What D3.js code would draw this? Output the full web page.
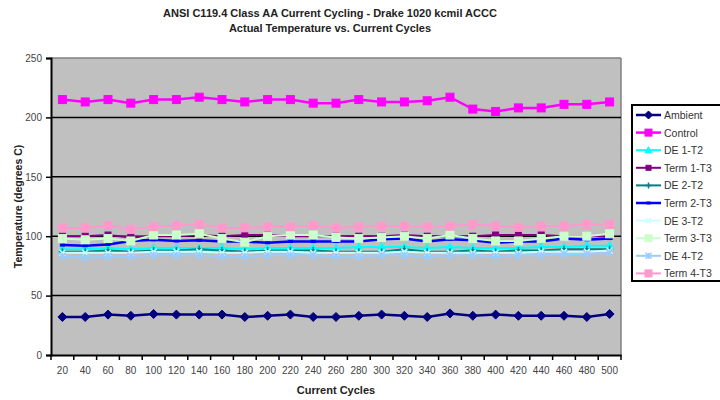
<!DOCTYPE html>
<html><head><meta charset="utf-8">
<script src="https://cdn.jsdelivr.net/npm/d3@7/dist/d3.min.js"></script>
<style>body{margin:0;background:#fff;} svg{display:block;font-family:"Liberation Sans",Arial,sans-serif;}</style>
</head><body>
<svg id="c" width="720" height="400"></svg>
<script>
const cycles = [20,40,60,80,100,120,140,160,180,200,220,240,260,280,300,320,340,360,380,400,420,440,460,480,500];
const yTicks = [0,50,100,150,200,250];
const seriesNames = ["Ambient","Control","DE 1-T2","Term 1-T3","DE 2-T2","Term 2-T3","DE 3-T2","Term 3-T3","DE 4-T2","Term 4-T3"];
const ambient = [32,32,34,33,34.5,34,34,34,32,33,34,32,32,33,34,33,32,35,33,34,33,33,33,32,34.5];
const control = [215,213,215,212,215,215,217,215,213,215,215,212,212,215,213,213,214,217,207,205,208,208,211,211,213];
const de1t2 = [89,89,90,89,90,90,90,90,89,90,90,90,90,91,91,91,90,91,90,90,90,91,91,92,92];
const term1t3 = [100,100,101,99,100,100,101,100,101,101,100,100,100,100,100,101,100,100,100,101,101,101,100,100,100];
const de2t2 = [87,87,88,87,88,88,89,88,87,88,88,88,87,87,87,89,87,87,88,87,88,88,89,89,89];
const term2t3 = [92.5,92,93,96,97,96,96.5,95.5,95.5,94.5,95.5,95.5,95.5,95.5,97.5,98,95.5,97.5,96.5,94.5,95.5,95.5,98,97,98];
const de3t2 = [86,86,86,86,87,87,87,86,86,87,87,86,86,86,86,87,86,86,86,86,86,87,87,87,88];
const term3t3 = [98,97,98,96,101,101,102,98,95,100,101,101,99,98,99,100,98,101,98,96,96,98,100,100,102];
const de4t2 = [83,82,83,83,84,84,84,83,83,84,84,84,83,83,84,84,83,84,84,83,84,84,85,85,86];
const term4t3 = [107,107,109,106,108,109,110,107,107,108,108,109,107,108,108.5,108.5,108,108.5,110,108.5,107.5,108.5,108.5,110,110];

const seriesValues = [ambient,control,de1t2,term1t3,de2t2,term2t3,de3t2,term3t3,de4t2,term4t3];
const colors = ["#000080","#ff00ff","#00ffff","#800080","#008080","#0000ff","#ccffff","#ccffcc","#99ccff","#ff99cc"];
const markers = ["diamond","square","triangle","square","plus","dash","x","square","star","square"];
const widths = [2.5,2.5,2,2,2,2.5,2,2,2,2];
const msizes = [7,8,6,6,7,5,6,8,7,8];

const svg = d3.select("#c");
const L=51,R=621,T=58,B=355;
const x = d3.scaleBand().domain(cycles).range([L,R]);
const y = d3.scaleLinear().domain([0,250]).range([B,T]);

// plot area
svg.append("rect").attr("x",L).attr("y",T).attr("width",R-L).attr("height",B-T).attr("fill","#c0c0c0");
svg.append("line").attr("x1",L).attr("x2",R).attr("y1",T).attr("y2",T).attr("stroke","#808080").attr("stroke-width",1.5);
svg.append("line").attr("x1",R).attr("x2",R).attr("y1",T).attr("y2",B).attr("stroke","#808080").attr("stroke-width",1.5);

// gridlines
svg.append("g").selectAll("line").data(yTicks.filter(d=>d>0 && d<250)).join("line")
  .attr("x1",L).attr("x2",R).attr("y1",d=>y(d)).attr("y2",d=>y(d))
  .attr("stroke","#000").attr("stroke-width",1.5);

// y axis
const yAxis = d3.axisLeft(y).tickValues(yTicks).tickSize(5).tickPadding(4);
const gy = svg.append("g").attr("transform",`translate(${L},0)`).call(yAxis);
gy.select(".domain").attr("stroke","#000").attr("stroke-width",2);
gy.selectAll(".tick line").attr("stroke","#000").attr("stroke-width",1.5);
gy.selectAll("text").attr("font-size",10).attr("fill","#444").attr("font-family","Liberation Sans, Arial, sans-serif");

// x axis
const xAxis = d3.axisBottom(x).tickSize(0).tickPadding(12);
const gx = svg.append("g").attr("transform",`translate(0,${B})`).call(xAxis);
gx.select(".domain").attr("stroke","#000").attr("stroke-width",2);
gx.selectAll("text").attr("font-size",10).attr("fill","#444").attr("font-family","Liberation Sans, Arial, sans-serif");
const bounds = d3.range(cycles.length+1).map(i=>L+i*x.step());
svg.append("g").selectAll("line").data(bounds).join("line")
  .attr("x1",d=>d).attr("x2",d=>d).attr("y1",B).attr("y2",B+5)
  .attr("stroke","#000").attr("stroke-width",1.5);

// marker generator
function drawMarker(g, type, cx, cy, s, color){
  const h=s/2;
  if(type==="diamond"){
    g.append("path").attr("d",`M${cx},${cy-h-1}L${cx+h+1},${cy}L${cx},${cy+h+1}L${cx-h-1},${cy}Z`).attr("fill",color).attr("stroke",color);
  } else if(type==="square"){
    g.append("rect").attr("x",cx-h).attr("y",cy-h).attr("width",s).attr("height",s).attr("fill",color).attr("stroke",color);
  } else if(type==="triangle"){
    g.append("path").attr("d",`M${cx},${cy-h-1}L${cx+h+1},${cy+h}L${cx-h-1},${cy+h}Z`).attr("fill",color).attr("stroke",color);
  } else if(type==="plus"){
    g.append("path").attr("d",`M${cx-h},${cy}H${cx+h}M${cx},${cy-h}V${cy+h}`).attr("stroke",color).attr("stroke-width",1.5);
  } else if(type==="dash"){
    g.append("path").attr("d",`M${cx-h},${cy}H${cx+h}`).attr("stroke",color).attr("stroke-width",3);
  } else if(type==="x"){
    g.append("path").attr("d",`M${cx-h},${cy-h}L${cx+h},${cy+h}M${cx-h},${cy+h}L${cx+h},${cy-h}`).attr("stroke",color).attr("stroke-width",1.5);
  } else if(type==="star"){
    g.append("path").attr("d",`M${cx-h},${cy-h}L${cx+h},${cy+h}M${cx-h},${cy+h}L${cx+h},${cy-h}M${cx},${cy-h}V${cy+h}`).attr("stroke",color).attr("stroke-width",1.5);
  }
}

// draw series, back to front (later on top as in Excel)
const line = d3.line().x((d,i)=>x(cycles[i])+x.bandwidth()/2).y(d=>y(d));
const order = [9,8,7,6,5,4,3,2,1,0].reverse();
order.forEach(k=>{
  const g = svg.append("g");
  g.append("path").datum(seriesValues[k]).attr("d",line).attr("fill","none")
    .attr("stroke",colors[k]).attr("stroke-width",widths[k]);
  seriesValues[k].forEach((v,i)=>drawMarker(g,markers[k],x(cycles[i])+x.bandwidth()/2,y(v),msizes[k],colors[k]));
});

// titles
svg.append("text").attr("x",330).attr("y",17).attr("text-anchor","middle").attr("font-size",11).attr("font-weight","bold").attr("fill","#222")
  .text("ANSI C119.4 Class AA Current Cycling - Drake 1020 kcmil ACCC");
svg.append("text").attr("x",330).attr("y",32).attr("text-anchor","middle").attr("font-size",11).attr("font-weight","bold").attr("fill","#222")
  .text("Actual Temperature vs. Current Cycles");
svg.append("text").attr("x",(L+R)/2).attr("y",394).attr("text-anchor","middle").attr("font-size",11).attr("font-weight","bold").attr("fill","#222")
  .text("Current Cycles");
svg.append("text").attr("transform",`translate(22,${(T+B)/2}) rotate(-90)`).attr("text-anchor","middle").attr("font-size",10.5).attr("font-weight","bold").attr("fill","#222")
  .text("Temperature (degrees C)");

// legend
const lg = svg.append("g");
lg.append("rect").attr("x",632).attr("y",105).attr("width",95).attr("height",176).attr("fill","#fff").attr("stroke","#000").attr("stroke-width",2);
seriesNames.forEach((n,k)=>{
  const ly = 115 + k*17.6;
  lg.append("line").attr("x1",636).attr("x2",661).attr("y1",ly).attr("y2",ly).attr("stroke",colors[k]).attr("stroke-width",widths[k]);
  drawMarker(lg,markers[k],648.5,ly,msizes[k]-1,colors[k]);
  lg.append("text").attr("x",664).attr("y",ly+4).attr("font-size",10.5).attr("fill","#333").text(n);
});
</script>
</body></html>
